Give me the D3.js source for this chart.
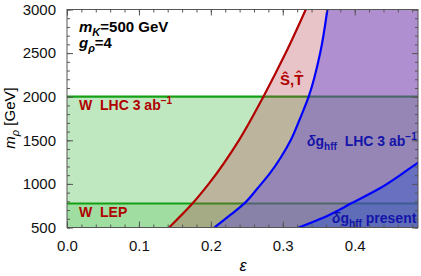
<!DOCTYPE html>
<html>
<head>
<meta charset="utf-8">
<script src="https://cdn.jsdelivr.net/npm/d3@7"></script>
<style>
  body { margin: 0; background: #fff; }
  svg { display: block; font-family: "Liberation Sans", Arial, sans-serif; }
</style>
</head>
<body>
<script>
// chart values
var xTicks = [0, 0.1, 0.2, 0.3, 0.4];
var yTicks = [500, 1000, 1500, 2000, 2500, 3000];
var xMinor = d3.range(0, 0.49, 0.02);
var yMinor = d3.range(500, 3001, 100);

// bounds, [epsilon, m_rho]
var stCurve = [[0.142, 500], [0.175, 780], [0.197, 1000], [0.239, 1500], [0.273, 2000], [0.304, 2500], [0.332, 3000]];
var hffLHC = [[0.205, 500], [0.228, 650], [0.247, 780], [0.265, 950], [0.282, 1120], [0.297, 1300], [0.311, 1500], [0.324, 1750], [0.336, 2000], [0.352, 2500], [0.362, 3000]];
var hffPresent = [[0.322, 500], [0.357, 615], [0.396, 780], [0.435, 950], [0.477, 1180], [0.492, 1265]];
var wLHC = 2000;
var wLEP = 775;

var width = 421, height = 276;
var pLeft = 67, pRight = 418, pTop = 9.5, pBottom = 227.5;

var svg = d3.select("body").append("svg")
    .attr("width", width)
    .attr("height", height);

var x = d3.scaleLinear().domain([0, 0.488]).range([pLeft, pRight]);
var y = d3.scaleLinear().domain([500, 3000]).range([pBottom, pTop]);

svg.append("clipPath").attr("id", "plot")
  .append("rect")
    .attr("x", pLeft).attr("y", pTop)
    .attr("width", pRight - pLeft).attr("height", pBottom - pTop);

var g = svg.append("g").attr("clip-path", "url(#plot)");

// W bands
g.append("rect")
    .attr("x", pLeft).attr("width", pRight - pLeft)
    .attr("y", y(wLHC)).attr("height", y(500) - y(wLHC))
    .attr("fill", "rgb(192,232,192)");
g.append("rect")
    .attr("x", pLeft).attr("width", pRight - pLeft)
    .attr("y", y(wLEP)).attr("height", y(500) - y(wLEP))
    .attr("fill", "rgb(160,221,160)");
[wLHC, wLEP].forEach(function(v) {
  g.append("line")
      .attr("x1", pLeft).attr("x2", pRight)
      .attr("y1", y(v)).attr("y2", y(v))
      .attr("stroke", "rgb(20,160,20)")
      .attr("stroke-width", 2.2);
});

var curve = d3.line()
    .x(function(d) { return x(d[0]); })
    .y(function(d) { return y(d[1]); })
    .curve(d3.curveMonotoneY);

function region(pts) {
  var last = pts[pts.length - 1];
  return curve(pts) +
      "L" + x(0.6) + "," + y(last[1]) + "L" + x(0.6) + "," + y(pts[0][1]) + "Z";
}

g.append("path").attr("d", region(stCurve))
    .attr("fill", "rgb(178,58,72)").attr("fill-opacity", 0.3);
g.append("path").attr("d", region(hffLHC))
    .attr("fill", "rgb(92,66,220)").attr("fill-opacity", 0.4);
g.append("path").attr("d", region(hffPresent))
    .attr("fill", "rgb(35,79,207)").attr("fill-opacity", 0.4);

g.append("path").attr("d", curve(stCurve))
    .attr("fill", "none").attr("stroke", "rgb(178,0,0)").attr("stroke-width", 2.2);
g.append("path").attr("d", curve(hffLHC))
    .attr("fill", "none").attr("stroke", "rgb(0,0,255)").attr("stroke-width", 2.2);
g.append("path").attr("d", curve(hffPresent))
    .attr("fill", "none").attr("stroke", "rgb(0,0,255)").attr("stroke-width", 2.2);

// frame + ticks
var frameCol = "#555";
function styleAxis(sel) {
  sel.select(".domain").remove();
  sel.selectAll("line").attr("stroke", frameCol);
  sel.selectAll("text").attr("fill", "#111").style("font-size", "15px")
      .style("font-family", "'Liberation Sans', Arial, sans-serif");
}
svg.append("g").attr("transform", "translate(0," + pBottom + ")")
    .call(d3.axisBottom(x).tickValues(xMinor).tickSize(-3).tickFormat(""))
    .call(styleAxis);
svg.append("g").attr("transform", "translate(0," + pBottom + ")")
    .call(d3.axisBottom(x).tickValues(xTicks).tickSize(-6).tickPadding(13).tickFormat(d3.format(".1f")))
    .call(styleAxis);
svg.append("g").attr("transform", "translate(0," + pTop + ")")
    .call(d3.axisTop(x).tickValues(xMinor).tickSize(-3).tickFormat(""))
    .call(styleAxis);
svg.append("g").attr("transform", "translate(0," + pTop + ")")
    .call(d3.axisTop(x).tickValues(xTicks).tickSize(-6).tickFormat(""))
    .call(styleAxis);
svg.append("g").attr("transform", "translate(" + pLeft + ",0)")
    .call(d3.axisLeft(y).tickValues(yMinor).tickSize(-3).tickFormat(""))
    .call(styleAxis);
svg.append("g").attr("transform", "translate(" + pLeft + ",0)")
    .call(d3.axisLeft(y).tickValues(yTicks).tickSize(-6).tickPadding(11).tickFormat(d3.format("d")))
    .call(styleAxis);
svg.append("g").attr("transform", "translate(" + pRight + ",0)")
    .call(d3.axisRight(y).tickValues(yMinor).tickSize(-3).tickFormat(""))
    .call(styleAxis);
svg.append("g").attr("transform", "translate(" + pRight + ",0)")
    .call(d3.axisRight(y).tickValues(yTicks).tickSize(-6).tickFormat(""))
    .call(styleAxis);
svg.append("rect")
    .attr("x", pLeft).attr("y", pTop)
    .attr("width", pRight - pLeft).attr("height", pBottom - pTop)
    .attr("fill", "none").attr("stroke", frameCol).attr("stroke-width", 1);

// axis titles
svg.append("text")
    .attr("x", 243).attr("y", 271)
    .attr("text-anchor", "middle")
    .style("font-size", "16px").style("font-style", "italic")
    .text("ε");
var yt = svg.append("text")
    .attr("transform", "translate(15,118) rotate(-90)")
    .attr("text-anchor", "middle")
    .style("font-size", "15px");
yt.append("tspan").style("font-style", "italic").text("m");
yt.append("tspan").attr("dy", 4).style("font-size", "11px").style("font-style", "italic").text("ρ");
yt.append("tspan").attr("dy", -4).text(" [GeV]");

// annotations
var t1 = svg.append("text").attr("x", 79).attr("y", 32)
    .style("font-size", "15px").style("font-weight", "bold");
t1.append("tspan").style("font-style", "italic").text("m");
t1.append("tspan").attr("dy", 4).style("font-size", "11px").style("font-style", "italic").text("K");
t1.append("tspan").attr("dy", -4).text("=500 GeV");

var t2 = svg.append("text").attr("x", 79).attr("y", 48)
    .style("font-size", "15px").style("font-weight", "bold");
t2.append("tspan").style("font-style", "italic").text("g");
t2.append("tspan").attr("dy", 4).style("font-size", "11px").style("font-style", "italic").text("ρ");
t2.append("tspan").attr("dy", -4).text("=4");

var red = "rgb(176,0,0)", blue = "rgb(20,20,170)";
function abLabel(sel) {
  sel.append("tspan").text("ab");
  sel.append("tspan").attr("dy", -6).style("font-size", "10px").text("−1");
}
var t3 = svg.append("text").attr("x", 79).attr("y", 110)
    .attr("fill", red).style("font-size", "14px").style("font-weight", "bold")
    .attr("xml:space", "preserve");
t3.append("tspan").text("W  LHC 3 ");
abLabel(t3);

svg.append("text").attr("x", 79).attr("y", 217)
    .attr("fill", red).style("font-size", "14px").style("font-weight", "bold")
    .attr("xml:space", "preserve")
    .text("W  LEP");

svg.append("text").attr("x", 280).attr("y", 85)
    .attr("fill", red).style("font-size", "15px").style("font-weight", "bold")
    .text("Ŝ,T\u0302");

var t4 = svg.append("text").attr("x", 307).attr("y", 146)
    .attr("fill", blue).style("font-size", "14px").style("font-weight", "bold")
    .attr("xml:space", "preserve");
t4.append("tspan").style("font-style", "italic").text("δ");
t4.append("tspan").text("g");
t4.append("tspan").attr("dy", 4).style("font-size", "10px").text("hff");
t4.append("tspan").attr("dy", -4).text("  LHC 3 ");
abLabel(t4);

var t5 = svg.append("text").attr("x", 332).attr("y", 223)
    .attr("fill", blue).style("font-size", "14px").style("font-weight", "bold")
    .attr("xml:space", "preserve");
t5.append("tspan").style("font-style", "italic").text("δ");
t5.append("tspan").text("g");
t5.append("tspan").attr("dy", 4).style("font-size", "10px").text("hff");
t5.append("tspan").attr("dy", -4).text(" present");
</script>
</body>
</html>
